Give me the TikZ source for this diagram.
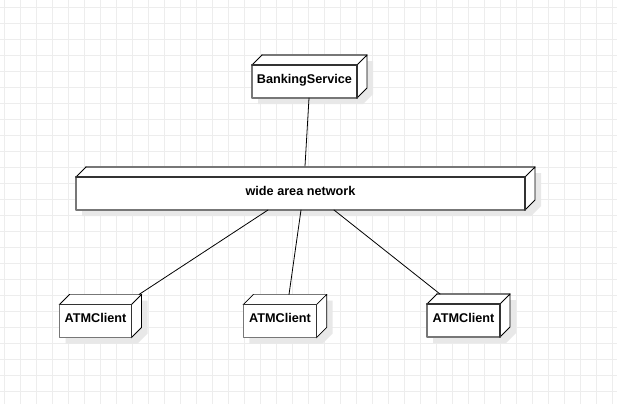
\documentclass[tikz,border=0pt]{standalone}
\usepackage{fontspec}
\setmainfont{Liberation Sans}
\usetikzlibrary{calc,backgrounds}
\definecolor{gridgray}{HTML}{EDEDED}
\definecolor{edgegray}{HTML}{777777}
\definecolor{edgedark}{HTML}{333333}
\definecolor{shadowgray}{HTML}{E8E8E8}
\begin{document}
\begin{tikzpicture}[x=0.75pt, y=-0.75pt, font=\bfseries\fontsize{9.5}{11}\selectfont, line join=round, line cap=round,
		devnode/.style={draw=edgegray, line width=1.2pt, fill=white, inner sep=0pt, outer sep=0pt, minimum height=24.75pt, text height=7pt, text depth=4.5pt},
		gridline/.style={draw=gridgray, line width=0.75pt},
		link/.style={draw=black, line width=0.6pt}]
			\def\dep{10}
			\useasboundingbox (0,0) rectangle (617,404);
			\node[devnode, minimum width=78.75pt] (bank) at (304.5,81.5) {BankingService};
			\node[devnode, minimum width=336.75pt] (wan) at (300.5,193.5) {wide area network};
			\node[devnode, minimum width=54pt] (atma) at (95.5,321) {ATMClient};
			\node[devnode, minimum width=55pt] (atmb) at (280,321) {ATMClient};
			\node[devnode, minimum width=54.75pt] (atmc) at (463.5,320.5) {ATMClient};
			\begin{scope}[on background layer]
			\fill[white] (0,0) rectangle (617,404);
			\foreach \gx in {4,20,...,612}\draw[gridline] (\gx,0)--(\gx,404);
			\foreach \gy in {7,23,...,391}\draw[gridline] (0,\gy)--(617,\gy);
			\foreach \n in {bank,wan,atma,atmb,atmc}\fill[shadowgray] ($(\n.south west)+(6,6)$)--($(\n.north west)+(6,6)$)--($(\n.north west)+(\dep+6,-\dep+6)$)--($(\n.north east)+(\dep+6,-\dep+6)$)--($(\n.south east)+(\dep+6,-\dep+6)$)--($(\n.south east)+(6,6)$)--cycle;
			\foreach \n in {bank,wan,atma,atmb,atmc}\fill[white] (\n.north west)--++(\dep,-\dep)--($(\n.north east)+(\dep,-\dep)$)--($(\n.south east)+(\dep,-\dep)$)--(\n.south east)--(\n.north east)--cycle;
			\end{scope}
			\foreach \n in {bank,wan,atma,atmb,atmc}{
				\draw[edgegray, line width=1.2pt] ($(\n.north west)+(\dep,-\dep)$)--($(\n.north east)+(\dep,-\dep)$);
				\draw[black, line width=0.6pt] (\n.north west)--++(\dep,-\dep) (\n.north east)--++(\dep,-\dep)--($(\n.south east)+(\dep,-\dep)$)--(\n.south east);
				\draw[edgedark, line width=1.2pt] (\n.north west)--(\n.north east)--(\n.south east);
			}
			\draw[link] ($(bank.south)+(4.5,0)$)--($(wan.north)+(4.5,-11)$);
			\draw[link] ($(wan.south)+(-32.5,0)$)--($(atma.north)+(43.5,-10)$);
			\draw[link] ($(wan.south)+(0.5,0)$)--($(atmb.north)+(9,-10)$);
			\draw[link] ($(wan.south)+(33.5,0)$)--($(atmc.north)+(-23.5,-10)$);
		\end{tikzpicture}
\end{document}
